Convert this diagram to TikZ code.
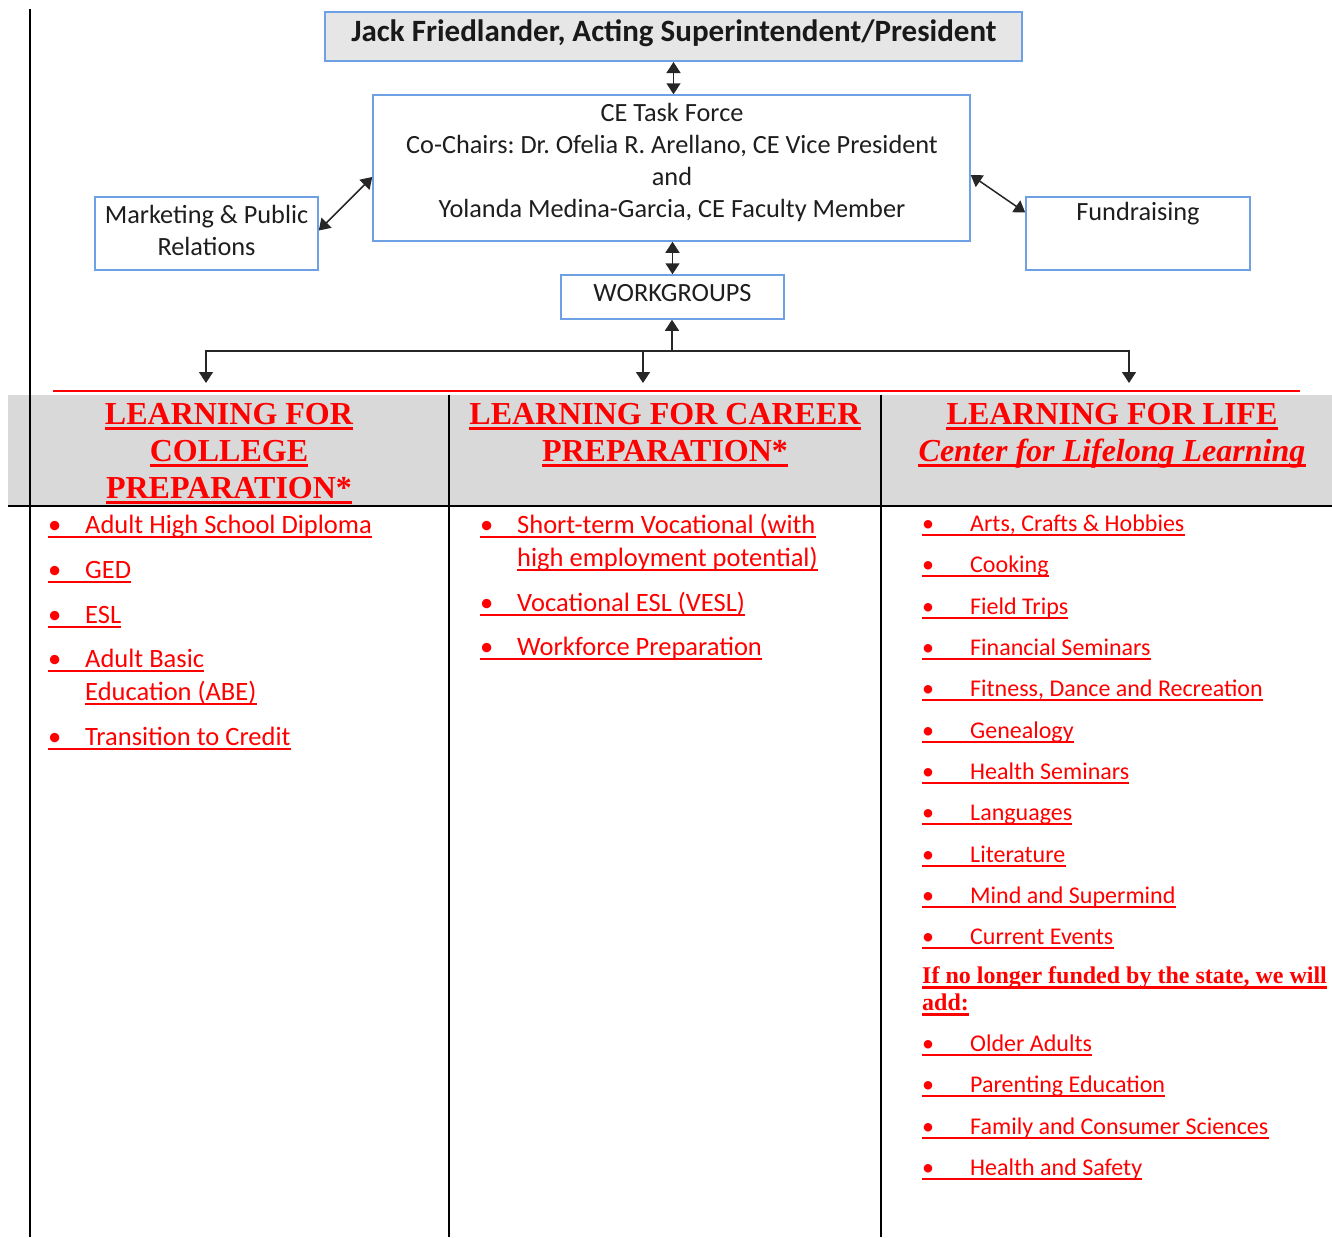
\documentclass[tikz,border=0pt]{standalone}
\usepackage{fontspec}
\setmainfont{Carlito}
\newfontfamily\hdfont{Liberation Serif}
\usetikzlibrary{arrows.meta}
\frenchspacing
\definecolor{boxblue}{RGB}{110,160,230}
\definecolor{topgray}{RGB}{230,230,230}
\definecolor{bandgray}{RGB}{217,217,217}
\definecolor{txtgray}{RGB}{30,30,30}
\definecolor{myred}{RGB}{255,0,0}
\tikzset{
  orgbox/.style={draw=boxblue, line width=1.5pt, inner sep=0pt},
  boxtext/.style={text=txtgray, font=\fontsize{26.3}{32}\selectfont, align=center, inner sep=0pt},
  conn/.style={line width=1.5pt, draw=black!85},
  tipend/.style={-{Triangle[width=14pt,length=11pt]}},
  tipboth/.style={{Triangle[width=14pt,length=11pt]}-{Triangle[width=14pt,length=11pt]}},
  itemtext/.style={anchor=base west, inner sep=0pt, text=myred, font=\fontsize{26.5}{32}\selectfont},
  itemsmall/.style={itemtext, font=\fontsize{24}{30}\selectfont},
  subtext/.style={anchor=base west, inner sep=0pt, text=myred, font=\hdfont\bfseries\fontsize{24}{27}\selectfont},
  hdtext/.style={anchor=base, inner sep=0pt, text=myred, font=\hdfont\bfseries\fontsize{32}{37}\selectfont},
  uline/.style={draw=myred, line width=2pt},
  hline/.style={draw=myred, line width=3pt},
  rulebar/.style={draw=black, line width=2pt}
}
\newcommand\litem[4]{%
  \node[itemtext] (#1) at (#2,#3) {#4};
  \draw[uline] ([yshift=-4pt]#1.base west) -- ([yshift=-4pt]#1.base east);}
\newcommand\sitem[4]{%
  \node[itemsmall] (#1) at (#2,#3) {#4};
  \draw[uline] ([yshift=-4pt]#1.base west) -- ([yshift=-4pt]#1.base east);}
\newcommand\lsub[4]{%
  \node[subtext] (#1) at (#2,#3) {#4};
  \draw[hline] ([yshift=-4pt]#1.base west) -- ([yshift=-4pt]#1.base east);}
\newcommand\lhead[5]{%
  \node[hdtext] (#1) at (#2,#3) {#5#4};
  \draw[hline] ([yshift=-4pt]#1.base west) -- ([yshift=-4pt]#1.base east);}
\newcommand\bA{\makebox[37pt][l]{•}}
\newcommand\bC{\makebox[48pt][l]{•}}
\begin{document}
\begin{tikzpicture}[x=1pt,y=-1pt]
\useasboundingbox (0,0) rectangle (1332,1237);
% band and rules
\fill[bandgray] (8,395) rectangle (1332,505);
\draw[rulebar] (30,9) -- (30,1237);
\draw[rulebar] (449,395) -- (449,1237);
\draw[rulebar] (881,395) -- (881,1237);
\draw[draw=black, line width=2.5pt] (8,506) -- (1332,506);
\draw[draw=myred, line width=2pt] (53,391) -- (1300,391);
% boxes
\node[orgbox, line width=2pt, fill=topgray, minimum width=697pt, minimum height=49pt] (top) at (673.5,36.5) {};
\node[boxtext, text=black!90, font=\bfseries\fontsize{31}{36}\selectfont] (topText) at (674,33) {Jack Friedlander, Acting Superintendent/President};
\node[orgbox, minimum width=597pt, minimum height=146pt] (ce) at (671.5,168) {};
\node[boxtext] (ceText) at (672,162) {CE Task Force\\Co-Chairs: Dr. Ofelia R. Arellano, CE Vice President\\and\\Yolanda Medina-Garcia, CE Faculty Member};
\node[orgbox, minimum width=223pt, minimum height=73pt] (mkt) at (206.5,233.5) {};
\node[boxtext] (mktText) at (206.5,230) {Marketing \& Public\\Relations};
\node[orgbox, minimum width=224pt, minimum height=73pt] (fund) at (1138,233.5) {};
\node[boxtext] (fundText) at (1138,214) {Fundraising};
\node[orgbox, minimum width=223pt, minimum height=44pt] (wg) at (672.5,297) {};
\node[boxtext] (wgText) at (672.5,293) {WORKGROUPS};
% connectors
\draw[conn, tipboth] (top.south) -- (top.south |- ce.north);
\draw[conn, tipboth] (wg.north |- ce.south) -- (wg.north);
\draw[conn, tipboth] ([yshift=3pt]mkt.east) -- ([yshift=-9pt]ce.west);
\draw[conn, tipboth] ([yshift=-7pt]ce.east) -- ([yshift=21pt]fund.west);
\coordinate (hub) at (672,351);
\coordinate (c1) at (206,383);
\coordinate (c2) at (643,383);
\coordinate (c3) at (1129,383);
\draw[conn, tipend] (hub) -- (hub |- wg.south);
\draw[conn, tipend] (hub) -| (c1);
\draw[conn, tipend] (hub) -| (c3);
\draw[conn, tipend] (c2 |- hub) -- (c2);
% headers
\lhead{h1a}{229}{424}{LEARNING FOR}{}
\lhead{h1b}{229}{461}{COLLEGE}{}
\lhead{h1c}{229}{498}{PREPARATION*}{}
\lhead{h2a}{665}{424}{LEARNING FOR CAREER}{}
\lhead{h2b}{665}{461}{PREPARATION*}{}
\lhead{h3a}{1112}{424}{LEARNING FOR LIFE}{}
\lhead{h3b}{1112}{461}{Center for Lifelong Learning}{\itshape}
% column 1
\litem{a1}{48}{533}{\bA Adult High School Diploma}
\litem{a2}{48}{578}{\bA GED}
\litem{a3}{48}{623}{\bA ESL}
\litem{a4}{48}{667}{\bA Adult Basic}
\litem{a4b}{85}{700}{Education (ABE)}
\litem{a5}{48}{745}{\bA Transition to Credit}
% column 2
\litem{b1}{480}{533}{\bA Short-term Vocational (with}
\litem{b1b}{517}{566}{high employment potential)}
\litem{b2}{480}{611}{\bA Vocational ESL (VESL)}
\litem{b3}{480}{655}{\bA Workforce Preparation}
% column 3
\sitem{d1}{922}{531}{\bC Arts, Crafts \& Hobbies}
\sitem{d2}{922}{572}{\bC Cooking}
\sitem{d3}{922}{614}{\bC Field Trips}
\sitem{d4}{922}{655}{\bC Financial Seminars}
\sitem{d5}{922}{696}{\bC Fitness, Dance and Recreation}
\sitem{d6}{922}{738}{\bC Genealogy}
\sitem{d7}{922}{779}{\bC Health Seminars}
\sitem{d8}{922}{820}{\bC Languages}
\sitem{d9}{922}{862}{\bC Literature}
\sitem{d10}{922}{903}{\bC Mind and Supermind}
\sitem{d11}{922}{944}{\bC Current Events}
\lsub{s1}{922}{983}{If no longer funded by the state, we will}
\lsub{s2}{922}{1010}{add:}
\sitem{e1}{922}{1051}{\bC Older Adults}
\sitem{e2}{922}{1092}{\bC Parenting Education}
\sitem{e3}{922}{1134}{\bC Family and Consumer Sciences}
\sitem{e4}{922}{1175}{\bC Health and Safety}
\end{tikzpicture}
\end{document}
